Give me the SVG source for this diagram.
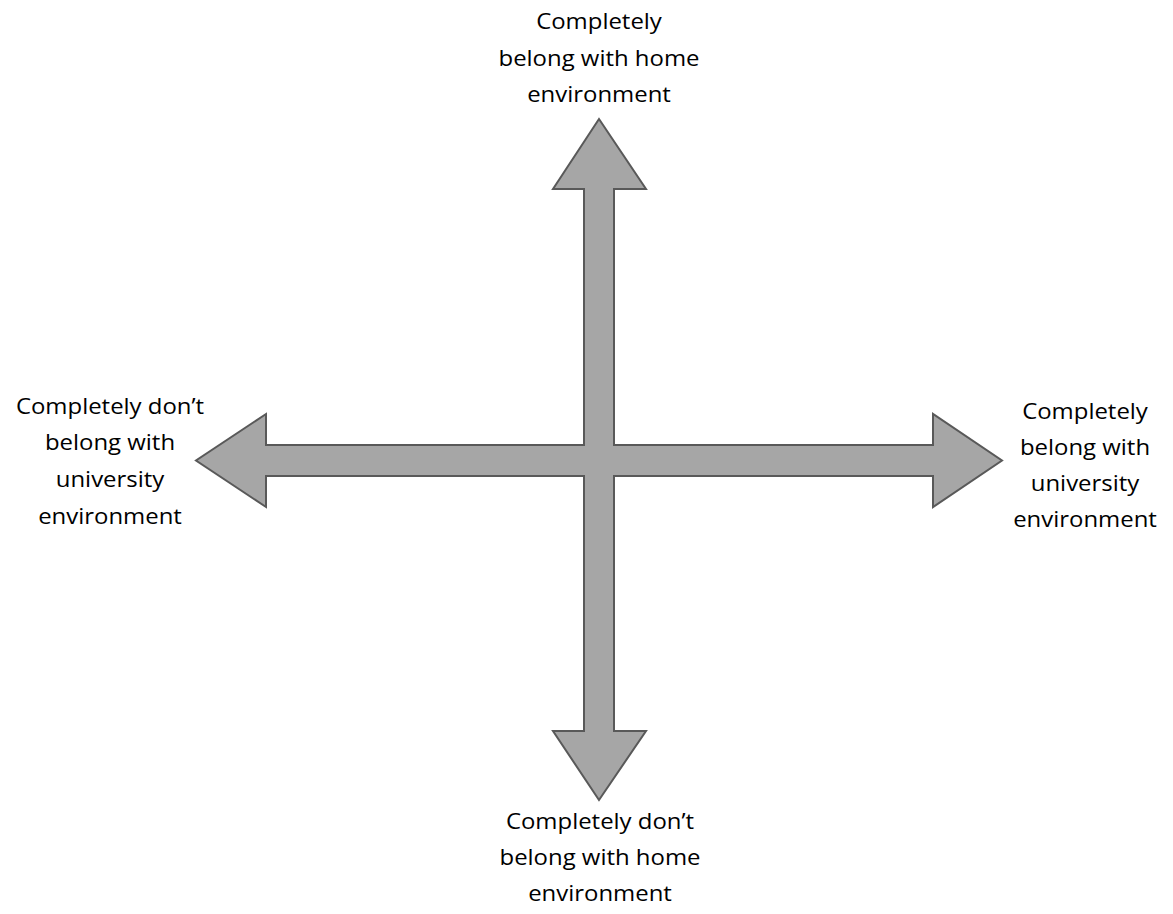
<svg xmlns="http://www.w3.org/2000/svg" width="1173" height="914" viewBox="0 0 1173 914">
<style>
.lbl{font-family:"Open Sans","Noto Sans",sans-serif;font-size:21px;fill:#000;text-anchor:middle}
.arrow{fill:#a6a6a6;stroke:#595959;stroke-width:2;stroke-linejoin:miter}
</style>
<rect width="1173" height="914" fill="#fff"/>
<g id="connectors">
<polygon class="arrow" points="599,119 646,189 614,189 614,445 933,445 933,414 1002,460.5 933,507 933,476 614,476 614,731 646,731 599,800 553,731 584,731 584,476 266,476 266,507 196,460.5 266,414 266,445 584,445 584,189 553,189"/>
</g>
<g id="top-label" transform="translate(599,0) scale(1.14,1)">
<text class="lbl" x="0" y="29">Completely</text>
<text class="lbl" x="0" y="66">belong with home</text>
<text class="lbl" x="0" y="102">environment</text>
</g>
<g id="right-label" transform="translate(1085,0) scale(1.14,1)">
<text class="lbl" x="0" y="419">Completely</text>
<text class="lbl" x="0" y="455">belong with</text>
<text class="lbl" x="0" y="491">university</text>
<text class="lbl" x="0" y="527">environment</text>
</g>
<g id="left-label" transform="translate(110,0) scale(1.14,1)">
<text class="lbl" x="0" y="414">Completely don’t</text>
<text class="lbl" x="0" y="450">belong with</text>
<text class="lbl" x="0" y="487">university</text>
<text class="lbl" x="0" y="524">environment</text>
</g>
<g id="bottom-label" transform="translate(600,0) scale(1.14,1)">
<text class="lbl" x="0" y="829">Completely don’t</text>
<text class="lbl" x="0" y="865">belong with home</text>
<text class="lbl" x="0" y="901">environment</text>
</g>
</svg>
